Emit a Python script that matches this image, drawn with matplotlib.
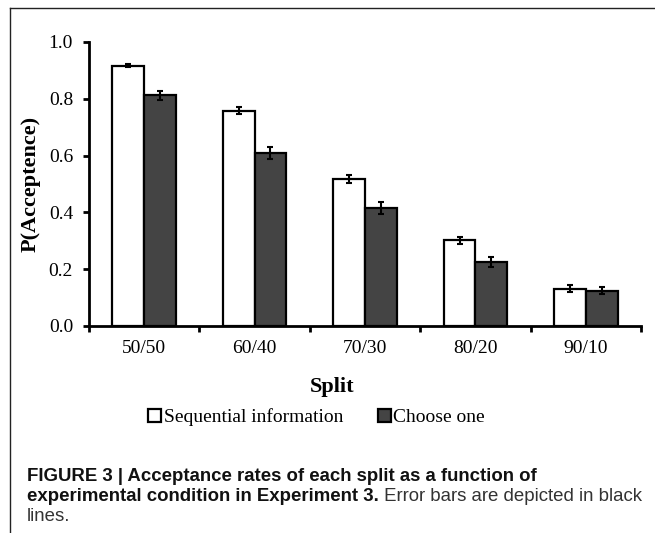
#!/usr/bin/env python3

import numpy as np
import matplotlib
matplotlib.use('Agg')
import matplotlib.pyplot as plt
from matplotlib.lines import Line2D
from matplotlib.patches import Patch

# data
splits = ['50/50', '60/40', '70/30', '80/20', '90/10']
sequential = [0.916, 0.758, 0.518, 0.302, 0.131]
sequential_err = [0.005, 0.013, 0.015, 0.013, 0.012]
choose_one = [0.812, 0.608, 0.415, 0.225, 0.124]
choose_one_err = [0.015, 0.021, 0.021, 0.018, 0.012]
series_names = ['Sequential information', 'Choose one']
y_ticks = [0.0, 0.2, 0.4, 0.6, 0.8, 1.0]

serif = ['Liberation Serif', 'DejaVu Serif']
sans = ['Liberation Sans', 'DejaVu Sans']
dark = '#444444'

W, H = 655, 533
fig = plt.figure(figsize=(W / 100, H / 100), dpi=100)

# axes box in pixel terms
left, right, bottom, top = 89, 641, 326, 42
ax = fig.add_axes([left / W, 1 - bottom / H, (right - left) / W, (bottom - top) / H])

x = np.arange(len(splits))
bw = 0.288
err_style = dict(ecolor='black', elinewidth=1.5, capsize=2.2, capthick=1.5)
ax.bar(x - bw / 2, sequential, bw, color='white', edgecolor='black', linewidth=1.6,
       yerr=sequential_err, error_kw=err_style, zorder=2)
ax.bar(x + bw / 2, choose_one, bw, color=dark, edgecolor='black', linewidth=1.6,
       yerr=choose_one_err, error_kw=err_style, zorder=2)

ax.set_xlim(-0.5, len(splits) - 0.5)
ax.set_ylim(0, 1.0)
ax.set_yticks(y_ticks)
ax.set_yticklabels(['%.1f' % v for v in y_ticks], fontfamily=serif, fontsize=14)

# boundary ticks without labels, labels in the middle of each group
ax.set_xticks(np.arange(len(splits) + 1) - 0.5)
ax.set_xticklabels([])
ax.set_xticks(x, minor=True)
ax.set_xticklabels(splits, minor=True, fontfamily=serif, fontsize=14)
ax.tick_params(axis='x', which='major', direction='out', length=4.5, width=2)
ax.tick_params(axis='x', which='minor', length=0, pad=10)
ax.tick_params(axis='y', direction='out', length=4.5, width=2, pad=7)

for side in ['top', 'right']:
    ax.spines[side].set_visible(False)
for side in ['left', 'bottom']:
    ax.spines[side].set_linewidth(2)

ax.set_ylabel('P(Acceptence)', fontfamily=serif, fontsize=16, fontweight='bold')
ax.yaxis.set_label_coords(-0.088, 0.5)
ax.set_xlabel('Split', fontfamily=serif, fontsize=16, fontweight='bold')
ax.xaxis.set_label_coords(0.44, -0.18)

handles = [Patch(facecolor='white', edgecolor='black', linewidth=1.6),
           Patch(facecolor=dark, edgecolor='black', linewidth=1.6)]
fig.legend(handles, series_names, loc='center left', bbox_to_anchor=(148 / W, 1 - 417 / H),
           ncol=2, frameon=False, handlelength=0.65, handleheight=0.65, handletextpad=0.15,
           columnspacing=1.8, borderpad=0, borderaxespad=0,
           prop=dict(family=serif, size=14))

# page frame lines (top and left)
fig.add_artist(Line2D([9.5 / W, 1], [1 - 8 / H, 1 - 8 / H], color='#222222', lw=1.0))
fig.add_artist(Line2D([9.5 / W, 9.5 / W], [0, 1 - 8 / H], color='#222222', lw=1.0))

# caption
cx = 27 / W
cap_size = 13.4
fig.text(cx, 1 - 481 / H, 'FIGURE 3 | Acceptance rates of each split as a function of',
         fontfamily=sans, fontsize=cap_size, fontweight='bold', va='baseline', color='#111111')
t2 = fig.text(cx, 1 - 501 / H, 'experimental condition in Experiment 3.',
              fontfamily=sans, fontsize=cap_size, fontweight='bold', va='baseline', color='#111111')
fig.add_artist(plt.Annotation(' Error bars are depicted in black', xy=(1, 0), xycoords=t2,
                              va='bottom', fontfamily=sans, fontsize=cap_size, color='#333333',
                              annotation_clip=False))
fig.text(cx, 1 - 521 / H, 'lines.', fontfamily=sans, fontsize=cap_size, va='baseline',
         color='#333333')

fig.savefig('out.png', dpi=100)
